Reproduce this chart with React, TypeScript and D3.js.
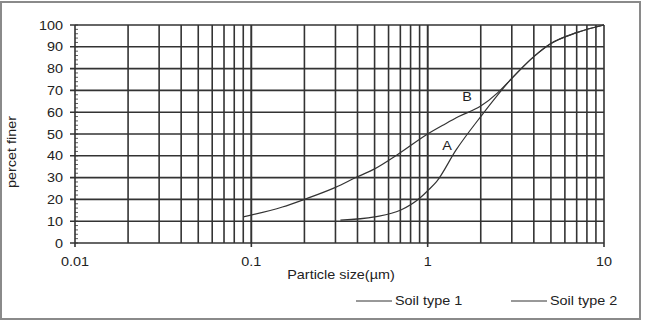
import React from 'react';
import * as d3 from 'd3';

// particle size (um) vs percent finer
const soilB_size = [0.09, 0.15, 0.2, 0.3, 0.4, 0.5, 0.67, 1, 1.25, 1.5, 2, 2.5, 3, 4, 5, 7, 10];
const soilB_pct = [12, 16.5, 20, 25.5, 30.4, 34, 40.4, 50, 54.5, 58, 62.8, 69, 75.5, 85.5, 91.5, 96.5, 100];
const soilA_size = [0.32, 0.5, 0.7, 0.9, 1, 1.12, 1.45, 2, 3, 4, 5, 7, 10];
const soilA_pct = [10.5, 12, 15, 20.5, 24, 28, 42.7, 58, 75.5, 85.5, 91.5, 96.5, 100];

const yTicks = [0, 10, 20, 30, 40, 50, 60, 70, 80, 90, 100];
const xTicks = [0.01, 0.1, 1, 10];
const xTickLabels = ['0.01', '0.1', '1', '10'];
const legendLabels = ['Soil type 1', 'Soil type 2'];

const W = 647;
const H = 322;
const left = 75, right = 604, top = 25, bottom = 243;
const ink = '#333';
const font = 'Liberation Sans, Arial, sans-serif';

const Txt = ({ x, y, anchor = 'start', children, rotate = 0 }) => (
  <g transform={`translate(${x},${y}) rotate(${rotate}) scale(1.2,1)`}>
    <text fontFamily={font} fontSize={12} fill="#222" textAnchor={anchor}>{children}</text>
  </g>
);

export default function App() {
  const x = d3.scaleLog().domain([0.01, 10]).range([left, right]);
  const y = d3.scaleLinear().domain([0, 100]).range([bottom, top]);

  // every 1..9 per decade
  const vLines = [];
  for (let d = 0.01; d < 10; d *= 10) {
    for (let k = 1; k <= 10; k++) vLines.push(+(d * k).toPrecision(3));
  }
  const minor = d3.range(0, 101, 2);

  const line = d3.line().curve(d3.curveMonotoneX).x(d => x(d[0])).y(d => y(d[1]));
  const ptsB = soilB_size.map((s, i) => [s, soilB_pct[i]]);
  const ptsA = soilA_size.map((s, i) => [s, soilA_pct[i]]);

  return (
    <svg width={W} height={H} style={{ position: 'absolute', left: 0, top: 0, background: '#fff' }}>
      <rect x={1} y={2} width={639} height={317} fill="#fff" stroke="#8a8a8a" strokeWidth={2} />

      {vLines.map(v => (
        <line key={'v' + v} x1={x(v)} x2={x(v)} y1={y(100)} y2={y(0)} stroke={ink} strokeWidth={1.6} />
      ))}
      {yTicks.map(t => (
        <line key={'h' + t} x1={left - 5} x2={right} y1={y(t)} y2={y(t)} stroke={ink} strokeWidth={1.6} />
      ))}
      {minor.map(t => (
        <line key={'m' + t} x1={left} x2={left + 3} y1={y(t)} y2={y(t)} stroke={ink} strokeWidth={0.8} />
      ))}
      {xTicks.map(t => (
        <line key={'xt' + t} x1={x(t)} x2={x(t)} y1={bottom} y2={bottom + 4} stroke={ink} strokeWidth={1.6} />
      ))}

      {yTicks.map(t => (
        <Txt key={'yl' + t} x={63} y={y(t) + 4.5} anchor="end">{t}</Txt>
      ))}
      {xTicks.map((t, i) => (
        <Txt key={'xl' + t} x={x(t)} y={266} anchor="middle">{xTickLabels[i]}</Txt>
      ))}

      <path d={line(ptsB)} fill="none" stroke={ink} strokeWidth={1.2} />
      <path d={line(ptsA)} fill="none" stroke={ink} strokeWidth={1.2} />

      <Txt x={467} y={101} anchor="middle">B</Txt>
      <Txt x={447} y={150} anchor="middle">A</Txt>

      <Txt x={341} y={279} anchor="middle">Particle size(µm)</Txt>
      <Txt x={16} y={152} anchor="middle" rotate={-90}>percet finer</Txt>

      {legendLabels.map((lab, i) => {
        const lx = i === 0 ? 356 : 511;
        return (
          <g key={lab}>
            <line x1={lx} x2={lx + 36} y1={301} y2={301} stroke={ink} strokeWidth={1} />
            <Txt x={lx + 39} y={305}>{lab}</Txt>
          </g>
        );
      })}
    </svg>
  );
}
